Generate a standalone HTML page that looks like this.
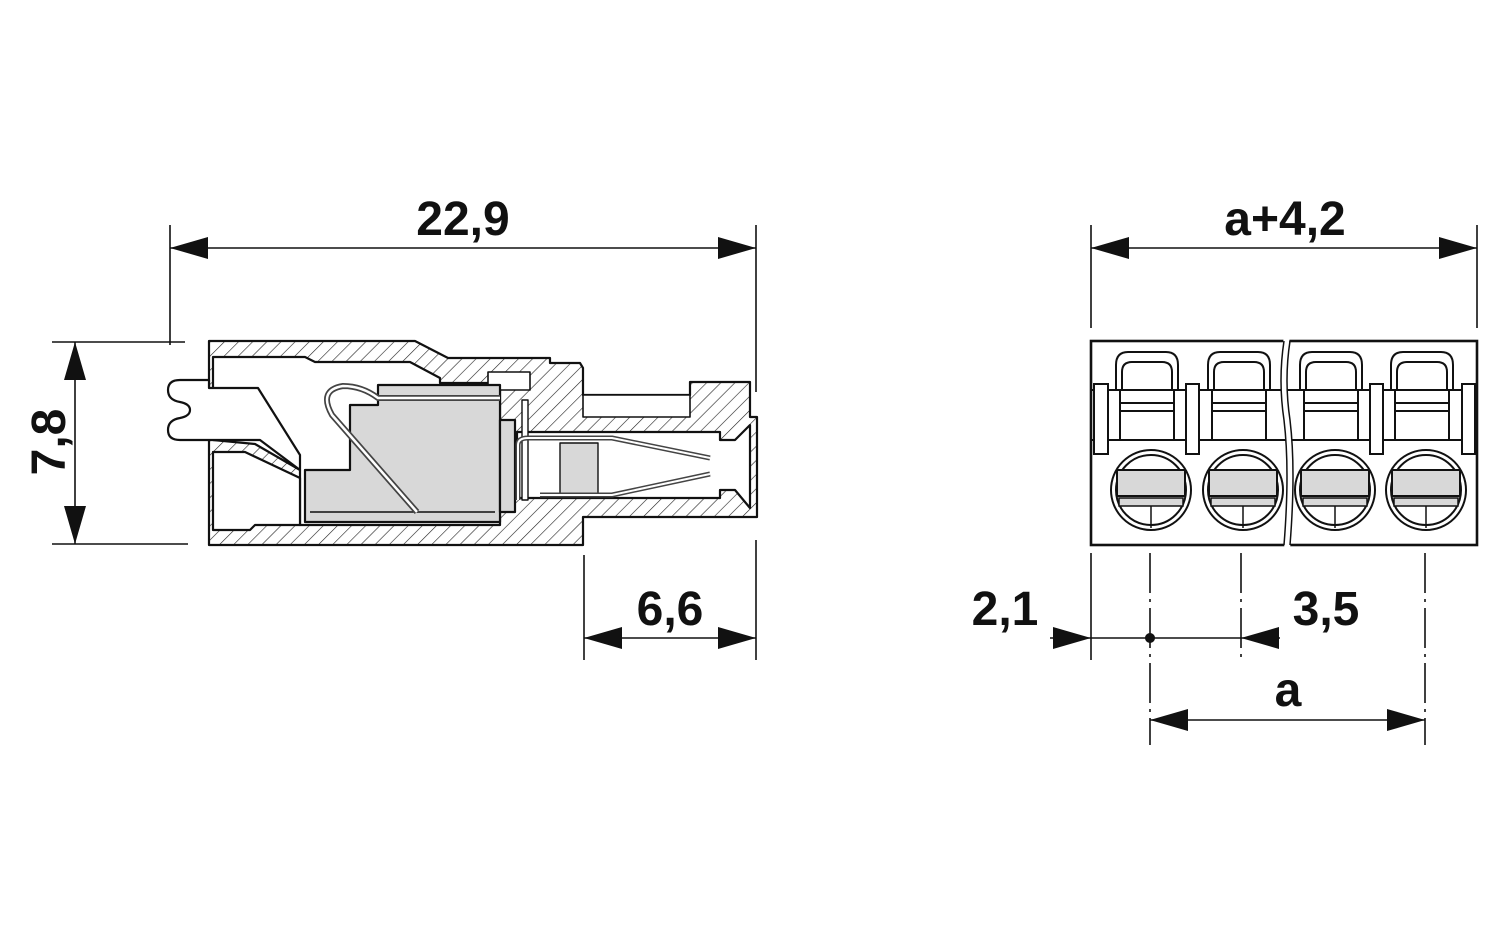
<!DOCTYPE html>
<html><head><meta charset="utf-8"><style>html,body{margin:0;padding:0;background:#fff}svg{display:block}</style></head>
<body>
<svg width="1500" height="937" viewBox="0 0 1500 937" xmlns="http://www.w3.org/2000/svg">
<defs>
<pattern id="h" width="10" height="10" patternUnits="userSpaceOnUse" patternTransform="rotate(45)">
<rect width="10" height="10" fill="#fff"/><line x1="0" y1="0" x2="0" y2="10" stroke="#222" stroke-width="1.2"/>
</pattern>
</defs>
<g font-family="Liberation Sans, sans-serif" font-weight="bold" font-size="48" fill="#111">
<text x="463" y="235" text-anchor="middle">22,9</text>
<text x="1285" y="235" text-anchor="middle">a+4,2</text>
<text x="670" y="625" text-anchor="middle">6,6</text>
<text x="1005" y="625" text-anchor="middle">2,1</text>
<text x="1326" y="625" text-anchor="middle">3,5</text>
<text x="1288" y="706" text-anchor="middle">a</text>
<text transform="translate(65,442) rotate(-90)" text-anchor="middle">7,8</text>
</g>
<g stroke="#111" stroke-width="1.6" fill="none">
<line x1="170" y1="225" x2="170" y2="345"/><line x1="756" y1="225" x2="756" y2="392"/>
<line x1="170" y1="248" x2="756" y2="248"/>
<line x1="52" y1="342" x2="185" y2="342"/><line x1="52" y1="544" x2="188" y2="544"/>
<line x1="75" y1="342" x2="75" y2="544"/>
<line x1="584" y1="555" x2="584" y2="660"/><line x1="756" y1="540" x2="756" y2="660"/>
<line x1="584" y1="638" x2="756" y2="638"/>
<line x1="1091" y1="225" x2="1091" y2="328"/><line x1="1477" y1="225" x2="1477" y2="328"/>
<line x1="1091" y1="248" x2="1477" y2="248"/>
<line x1="1091" y1="553" x2="1091" y2="660"/>
<line x1="1241" y1="553" x2="1241" y2="660" stroke-dasharray="40,6,3,6"/>
<line x1="1150" y1="553" x2="1150" y2="745" stroke-dasharray="40,6,3,6"/>
<line x1="1425" y1="553" x2="1425" y2="745" stroke-dasharray="40,6,3,6"/>
<line x1="1050" y1="638" x2="1280" y2="638"/>
<line x1="1150" y1="720" x2="1425" y2="720"/>
</g>
<g fill="#111">
<polygon points="170,248 208,237 208,259"/><polygon points="756,248 718,237 718,259"/>
<polygon points="1091,248 1129,237 1129,259"/><polygon points="1477,248 1439,237 1439,259"/>
<polygon points="75,342 64,380 86,380"/><polygon points="75,544 64,506 86,506"/>
<polygon points="584,638 622,627 622,649"/><polygon points="756,638 718,627 718,649"/>
<polygon points="1091,638 1053,627 1053,649"/><polygon points="1241,638 1279,627 1279,649"/>
<polygon points="1150,720 1188,709 1188,731"/><polygon points="1425,720 1387,709 1387,731"/>
<circle cx="1150" cy="638" r="5"/>
</g>
<!-- left body -->
<g stroke="#111" stroke-width="2.2" stroke-linejoin="round">
<polygon fill="url(#h)" points="209,341 415,341 448,358 550,358 550,363 580,363 583,368 583,395 690,395 690,382 750,382 750,417 757,417 757,517 583,517 583,545 209,545"/>
<!-- interior whites -->
<polygon fill="#fff" points="213,357 305,357 315,362 410,362 440,378 440,383 500,383 500,525 300,525 300,470 255,444 213,440"/>
<polygon fill="#fff" points="213,452 245,452 300,478 300,525 255,525 250,530 213,530"/>
<polygon fill="#fff" points="517,432 720,432 720,440 735,440 750,425 750,508 735,490 720,490 720,498 517,498"/>
<polygon fill="#fff" points="583,395 690,395 690,417 583,417" stroke-width="1.6"/>
<rect x="522" y="400" width="6" height="100" fill="#fff" stroke-width="1.4"/>
<polygon fill="#fff" stroke-width="1.6" points="488,372 530,372 530,390 488,390"/>
<!-- pin -->
<path fill="#fff" d="M209,380 L180,380 Q168,380 168,390 Q168,400 180,402 Q190,404 190,410 Q190,416 180,418 Q168,420 168,430 Q168,440 180,440 L209,440 L260,440 L300,470 L300,455 L258,388 L209,388 Z"/>
<!-- gray -->
<polygon fill="#d8d8d8" points="378,385 500,385 500,522 305,522 305,470 350,470 350,405 378,405"/>
<polygon fill="#d8d8d8" points="500,420 515,420 515,512 500,512"/>
<polygon fill="#d8d8d8" stroke-width="1.4" points="560,443 598,443 598,495 560,495"/>
<line x1="310" y1="512" x2="495" y2="512" stroke-width="1.4"/>
<path fill="none" stroke="#444" stroke-width="6" d="M417,512 L332,415 Q318,390 343,386 Q362,386 378,398 L500,398"/>
<path fill="none" stroke="#fff" stroke-width="2.5" d="M417,512 L332,415 Q318,390 343,386 Q362,386 378,398 L500,398"/>
<path fill="none" stroke="#444" stroke-width="5" d="M518,500 L518,445 Q518,438 528,438 L612,438 L710,458 M540,495 L612,495 L710,474"/>
<path fill="none" stroke="#fff" stroke-width="2" d="M518,500 L518,445 Q518,438 528,438 L612,438 L710,458 M540,495 L612,495 L710,474"/>
</g>
<!-- right view -->
<g stroke="#111" stroke-width="2" fill="#fff">
<rect x="1091" y="341" width="386" height="204" stroke-width="2.6"/>
<line x1="1091" y1="440" x2="1477" y2="440"/>
<line x1="1091" y1="390" x2="1477" y2="390"/>
<path d="M1284,335 Q1278,380 1284,420 Q1290,470 1284,550 L1290,550 Q1296,470 1290,420 Q1284,380 1290,335 Z" fill="#fff" stroke="none"/>
<path d="M1284,341 Q1278,380 1284,420 Q1290,470 1284,545 M1290,341 Q1284,380 1290,420 Q1296,470 1290,545" fill="none" stroke-width="1.5"/>
<g id="u">
<path d="M1116,390 L1116,365 Q1116,352 1128,352 L1166,352 Q1178,352 1178,365 L1178,390" fill="none"/>
<path d="M1122,390 L1122,372 Q1122,362 1132,362 L1162,362 Q1172,362 1172,372 L1172,390" fill="none"/>
<line x1="1120" y1="403" x2="1174" y2="403"/><line x1="1120" y1="411" x2="1174" y2="411"/>
<line x1="1120" y1="390" x2="1120" y2="440"/><line x1="1174" y1="390" x2="1174" y2="440"/>
<circle cx="1151" cy="490" r="40"/>
<circle cx="1151" cy="490" r="35"/>
<rect x="1117" y="470" width="68" height="26" fill="#d8d8d8"/>
<rect x="1119" y="498" width="64" height="8" fill="#d8d8d8" stroke-width="1.5"/>
<line x1="1151" y1="506" x2="1151" y2="528" stroke-width="1.5"/>
</g>
<use href="#u" x="92"/>
<use href="#u" x="184"/>
<use href="#u" x="275"/>
<rect x="1094" y="384" width="14" height="70"/>
<rect x="1186" y="384" width="13" height="70"/>
<rect x="1370" y="384" width="13" height="70"/>
<rect x="1462" y="384" width="13" height="70"/>
</g>
</svg>
</body></html>
